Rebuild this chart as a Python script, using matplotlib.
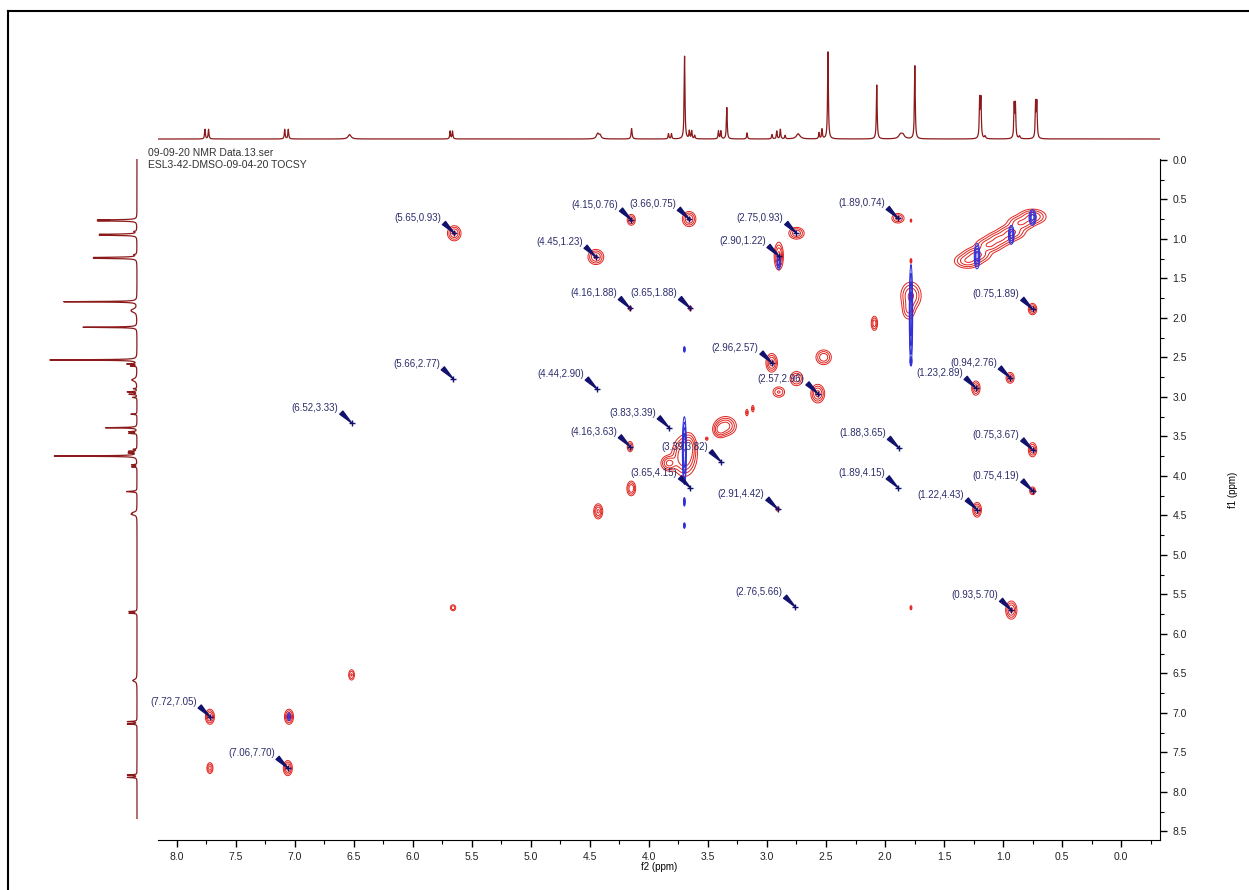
import numpy as np
import matplotlib.pyplot as plt
from matplotlib.ticker import MultipleLocator, FormatStrFormatter
from matplotlib.lines import Line2D

plt.rcParams['font.family'] = ['Liberation Sans', 'DejaVu Sans']

# 1H projection (used on top and left): shift ppm, height (tallest = 1), half width ppm
h_ppm = [7.735, 7.705, 7.065, 7.035, 6.52, 5.675, 5.655, 4.435, 4.415, 4.15,
         3.84, 3.815, 3.705, 3.665, 3.645, 3.62, 3.42, 3.40, 3.35, 3.18,
         2.97, 2.93, 2.90, 2.86, 2.75, 2.575, 2.55, 2.50, 2.09, 1.89,
         1.87, 1.77, 1.225, 1.215, 1.18, 0.935, 0.925, 0.89, 0.755, 0.745]
h_amp = [0.11, 0.11, 0.11, 0.11, 0.05, 0.09, 0.09, 0.06, 0.04, 0.12,
         0.06, 0.06, 0.95, 0.09, 0.09, 0.04, 0.09, 0.09, 0.36, 0.07,
         0.05, 0.09, 0.11, 0.04, 0.06, 0.07, 0.11, 1.0, 0.62, 0.05,
         0.04, 0.84, 0.44, 0.44, 0.03, 0.38, 0.38, 0.03, 0.40, 0.40]
h_wid = [0.004, 0.004, 0.004, 0.004, 0.015, 0.004, 0.004, 0.012, 0.01, 0.005,
         0.004, 0.004, 0.004, 0.004, 0.004, 0.004, 0.004, 0.004, 0.004, 0.004,
         0.004, 0.004, 0.004, 0.004, 0.018, 0.004, 0.004, 0.004, 0.004, 0.018,
         0.015, 0.004, 0.004, 0.004, 0.006, 0.004, 0.004, 0.006, 0.004, 0.004]

# positive (red) 2D peaks: f2, f1, width f2, width f1, amplitude
pos_f2 = [5.65, 4.15, 3.66, 2.75, 1.89, 4.45, 2.90, 4.16, 3.65, 0.75,
          2.96, 2.57, 0.94, 1.23, 4.16, 0.75, 0.75, 2.91, 1.22, 0.93,
          7.72, 7.06, 7.72, 7.05, 6.52, 5.66, 1.78, 4.43, 4.15, 3.83,
          3.70, 3.66, 3.51, 3.35, 3.40, 3.17, 3.12, 2.90, 2.75, 2.52,
          2.09, 1.78, 1.80, 0.75, 0.85, 0.93, 1.03, 1.12, 1.22, 1.30,
          1.78, 1.78]
pos_f1 = [0.93, 0.76, 0.75, 0.93, 0.74, 1.23, 1.22, 1.88, 1.88, 1.89,
          2.57, 2.96, 2.76, 2.89, 3.63, 3.67, 4.19, 4.42, 4.43, 5.70,
          7.05, 7.70, 7.70, 7.05, 6.52, 5.67, 5.67, 4.45, 4.16, 3.84,
          3.75, 3.62, 3.53, 3.37, 3.42, 3.20, 3.15, 2.94, 2.77, 2.50,
          2.07, 1.72, 1.90, 0.72, 0.80, 0.92, 1.00, 1.08, 1.20, 1.28,
          1.28, 0.77]
pos_w2 = [0.03, 0.02, 0.03, 0.035, 0.03, 0.035, 0.02, 0.01, 0.01, 0.02,
          0.025, 0.03, 0.02, 0.02, 0.015, 0.02, 0.015, 0.01, 0.02, 0.025,
          0.02, 0.02, 0.015, 0.02, 0.015, 0.015, 0.006, 0.02, 0.02, 0.035,
          0.05, 0.03, 0.008, 0.045, 0.03, 0.008, 0.008, 0.03, 0.03, 0.035,
          0.015, 0.045, 0.03, 0.06, 0.06, 0.06, 0.06, 0.06, 0.06, 0.06,
          0.005, 0.005]
pos_w1 = [0.05, 0.04, 0.05, 0.04, 0.035, 0.05, 0.09, 0.02, 0.02, 0.04,
          0.06, 0.06, 0.04, 0.05, 0.04, 0.05, 0.03, 0.02, 0.05, 0.06,
          0.05, 0.05, 0.04, 0.05, 0.04, 0.025, 0.02, 0.05, 0.05, 0.05,
          0.12, 0.08, 0.015, 0.06, 0.05, 0.03, 0.03, 0.04, 0.05, 0.05,
          0.05, 0.09, 0.07, 0.05, 0.05, 0.05, 0.05, 0.05, 0.05, 0.05,
          0.02, 0.015]
pos_amp = [0.5, 0.35, 0.5, 0.45, 0.35, 0.5, 0.55, 0.2, 0.2, 0.4,
           0.55, 0.55, 0.35, 0.4, 0.3, 0.4, 0.3, 0.2, 0.45, 0.5,
           0.5, 0.5, 0.35, 0.5, 0.3, 0.25, 0.2, 0.5, 0.45, 0.55,
           0.8, 0.45, 0.2, 0.6, 0.45, 0.2, 0.2, 0.3, 0.4, 0.45,
           0.4, 0.5, 0.3, 0.5, 0.45, 0.5, 0.45, 0.45, 0.5, 0.45,
           0.25, 0.2]

# negative (blue) 2D features
neg_f2 = [1.78, 1.78, 3.70, 3.70, 3.70, 3.70, 0.75, 0.93, 1.22, 2.90, 7.05]
neg_f1 = [1.95, 2.55, 3.68, 2.40, 4.33, 4.63, 0.73, 0.95, 1.22, 1.30, 7.05]
neg_w2 = [0.007, 0.004, 0.008, 0.004, 0.004, 0.004, 0.015, 0.012, 0.012, 0.008, 0.008]
neg_w1 = [0.30, 0.025, 0.20, 0.02, 0.03, 0.02, 0.05, 0.06, 0.08, 0.05, 0.03]
neg_amp = [0.7, 0.4, 0.8, 0.4, 0.4, 0.4, 0.6, 0.6, 0.6, 0.4, 0.3]

# picked cross peaks (f2, f1)
lab_f2 = [5.65, 4.15, 3.66, 2.75, 1.89, 4.45, 2.90, 4.16, 3.65, 0.75,
          2.96, 5.66, 4.44, 2.57, 0.94, 1.23, 6.52, 3.83, 4.16, 3.39,
          3.65, 1.88, 0.75, 1.89, 0.75, 2.91, 1.22, 2.76, 0.93, 7.72, 7.06]
lab_f1 = [0.93, 0.76, 0.75, 0.93, 0.74, 1.23, 1.22, 1.88, 1.88, 1.89,
          2.57, 2.77, 2.90, 2.96, 2.76, 2.89, 3.33, 3.39, 3.63, 3.82,
          4.15, 3.65, 3.67, 4.15, 4.19, 4.42, 4.43, 5.66, 5.70, 7.05, 7.70]

W, H = 1249, 890
fig = plt.figure(figsize=(W / 100, H / 100), dpi=100)

xl = (8.16, -0.33)
yl = (8.61, -0.01)
ax = fig.add_axes([158 / W, 1 - 840 / H, 1002 / W, 681 / H])
top = fig.add_axes([158 / W, 1 - 145 / H, 1002 / W, 100 / H])
left = fig.add_axes([40 / W, 1 - 840 / H, 105 / W, 681 / H])

# 1D projection
s = np.arange(-0.4, 8.25, 0.0005)
spec = np.zeros_like(s)
for p, a, w in zip(h_ppm, h_amp, h_wid):
    spec += a / (1 + ((s - p) / w) ** 2)
top.plot(s, spec, color='#8b1a1a', lw=0.9)
top.set_xlim(8.13, -0.29)
top.set_ylim(-0.069, 1.08)
top.axis('off')

left.plot(spec, s, color='#8b1a1a', lw=0.9)
left.set_xlim(1.115, -0.092)
left.set_ylim(8.52, -0.02)
left.axis('off')

# 2D contours
gx = np.arange(-0.4, 8.25, 0.003)
gy = np.arange(-0.1, 8.65, 0.003)


def field(f2, f1, w2, w1, amp):
    z = np.zeros((len(gy), len(gx)), dtype=np.float32)
    for x0, y0, sx, sy, a in zip(f2, f1, w2, w1, amp):
        ix = np.where(np.abs(gx - x0) < 5 * sx)[0]
        iy = np.where(np.abs(gy - y0) < 5 * sy)[0]
        ex = np.exp(-0.5 * ((gx[ix] - x0) / sx) ** 2)
        ey = np.exp(-0.5 * ((gy[iy] - y0) / sy) ** 2)
        z[iy[0]:iy[-1] + 1, ix[0]:ix[-1] + 1] += a * np.outer(ey, ex)
    return z


zp = field(pos_f2, pos_f1, pos_w2, pos_w1, pos_amp)
zn = field(neg_f2, neg_f1, neg_w2, neg_w1, neg_amp)
lev = [0.08, 0.16, 0.28, 0.45]
ax.contour(gx, gy, zp, levels=lev, colors='#e2231d', linewidths=0.7)
ax.contour(gx, gy, zn, levels=lev, colors='#2f2fd8', linewidths=0.7)

navy = '#12126e'
for x0, y0 in zip(lab_f2, lab_f1):
    ax.annotate(f'({x0:.2f},{y0:.2f})', xy=(x0, y0), xytext=(-13, 15),
                textcoords='offset pixels', ha='right', va='center',
                fontsize=7, color='#2d2d6b',
                arrowprops=dict(arrowstyle='wedge,tail_width=0.45,shrink_factor=0.5',
                                color=navy, shrinkA=0, shrinkB=0, relpos=(1.0, 0.3)))
ax.plot(lab_f2, lab_f1, '+', color=navy, ms=5, mew=1)

ax.set_xlim(xl)
ax.set_ylim(yl)
for sp in ['top', 'left']:
    ax.spines[sp].set_visible(False)
ax.yaxis.tick_right()
ax.xaxis.set_major_locator(MultipleLocator(0.5))
ax.xaxis.set_minor_locator(MultipleLocator(0.25))
ax.yaxis.set_major_locator(MultipleLocator(0.5))
ax.yaxis.set_minor_locator(MultipleLocator(0.25))
ax.xaxis.set_major_formatter(FormatStrFormatter('%.1f'))
ax.yaxis.set_major_formatter(FormatStrFormatter('%.1f'))
ax.tick_params(which='major', length=5, width=1, labelsize=7.5, labelcolor='#222222', pad=4)
ax.tick_params(which='minor', length=3, width=0.8)
ax.tick_params(axis='y', which='both', direction='out', right=True, left=False)

fig.text(659 / W, 1 - 867 / H, 'f2 (ppm)', ha='center', va='center', fontsize=7)
fig.text(1233 / W, 1 - 490 / H, 'f1 (ppm)', ha='center', va='center', fontsize=7, rotation=90)
fig.text(148 / W, 1 - 153 / H, '09-09-20 NMR Data.13.ser', va='center', fontsize=7.5, color='#333333')
fig.text(148 / W, 1 - 165 / H, 'ESL3-42-DMSO-09-04-20 TOCSY', va='center', fontsize=7.5, color='#333333')

fig.add_artist(Line2D([8 / W, 8 / W], [0, 1 - 11 / H], transform=fig.transFigure, color='k', lw=1.5))
fig.add_artist(Line2D([8 / W, 1], [1 - 11 / H, 1 - 11 / H], transform=fig.transFigure, color='k', lw=1.5))

fig.savefig('out.png', dpi=100)
